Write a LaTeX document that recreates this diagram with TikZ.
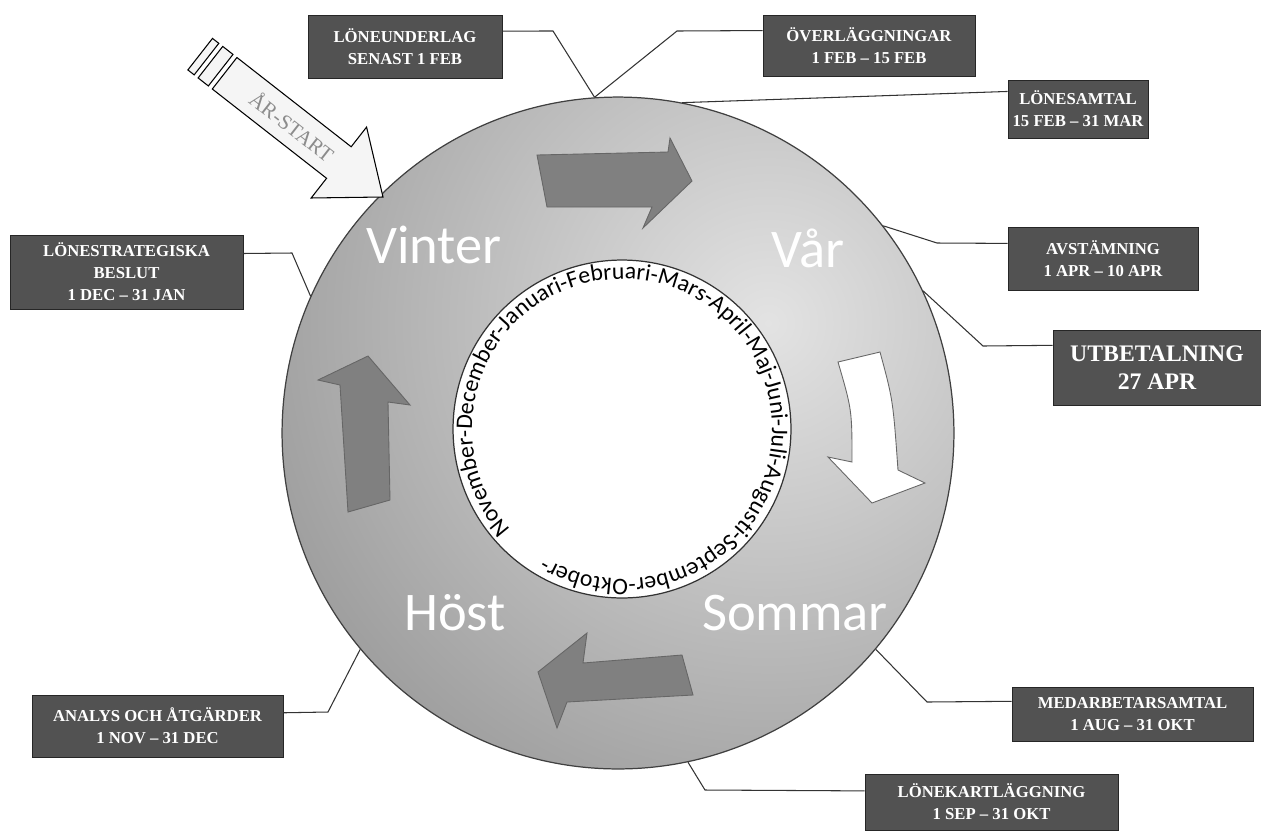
\documentclass[tikz,border=0pt]{standalone}
\usepackage{fontspec}
\setmainfont{Liberation Serif}
\newfontfamily\ringfont{Carlito}
\usetikzlibrary{calc,decorations.text}

\tikzset{
  lbl/.style={draw=black!85, fill=black!68, text=white, align=center, inner sep=0pt,
    line width=0.5pt, font=\bfseries\fontsize{9.5}{12.5}\selectfont},
  lead/.style={draw=black!80, line width=0.6pt},
  season/.style={text=white, anchor=base, font=\ringfont\fontsize{31}{31}\selectfont},
  ringarrow/.style={draw=black!60, fill=black!50, line width=0.5pt},
  startarrow/.style={draw=black, fill=gray!8, line width=0.6pt},
}

\begin{document}
\begin{tikzpicture}[x=0.02cm, y=-0.02cm]
  \useasboundingbox (0,0) rectangle (1261,833);

  % ring and inner disc
  \node[circle, draw=black!75, line width=0.7pt, minimum size=13.44cm, inner sep=0pt,
    path picture={\shade[inner color=gray!22, outer color=gray!78]
      ([xshift=3cm,yshift=2.2cm]path picture bounding box.center) circle (11cm);}]
    (ring) at (618,433) {};
  \node[circle, draw=black!80, fill=white, line width=0.7pt, minimum size=6.76cm,
    inner sep=0pt] (disc) at (622,429) {};

  % months along the disc
  \path[decorate, decoration={text along path, text align=left,
      text={|\ringfont\fontsize{13.5}{13.5}\selectfont|November-December-Januari-Februari-Mars-April-Maj-Juni-Juli-Augusti-September-Oktober-}}]
    (622,429) ++(138:150) arc[start angle=138, end angle=497, radius=150];

  % seasons
  \node[season] (vinter) at (434,263) {Vinter};
  \node[season] (var) at (808,267) {Vår};
  \node[season] (host) at (455,630) {Höst};
  \node[season] (sommar) at (795,630) {Sommar};

  % arrows in the ring
  \draw[ringarrow] (537,155) -- (668,152) -- (670,138) -- (692,181) -- (643,228)
    -- (652,207) -- (547,207) -- cycle;
  \draw[ringarrow, fill=white] (838,362) -- (880,352) .. controls (893,400) .. (898,470)
    -- (925,483) -- (872,503) -- (828,457) -- (852,462) .. controls (852,410) .. cycle;
  \draw[ringarrow] (538,672) -- (587,633) -- (583,663) -- (682,655) -- (693,695)
    -- (567,702) -- (557,728) -- cycle;
  \draw[ringarrow] (348,512) -- (340,385) -- (318,380) -- (368,356) -- (410,405)
    -- (388,402) -- (390,500) -- cycle;

  % year start arrow
  \begin{scope}[shift={(383,197)}, rotate=-38]
    \draw[startarrow] (0,0) -- (-56,-45) -- (-56,-20) -- (-201,-20) -- (-201,20)
      -- (-56,20) -- (-56,45) -- cycle;
    \draw[startarrow] (-206,-20) rectangle (-219,20);
    \draw[startarrow] (-224,-20) rectangle (-232,20);
    \node[transform shape, text=black!45, font=\fontsize{12}{12}\selectfont] (arstart) at (-115,0) {ÅR-START};
  \end{scope}

  % labels
  \node[lbl, minimum width=3.88cm, minimum height=1.26cm] (underlag) at (405,46.5) {LÖNEUNDERLAG\\SENAST 1 FEB};
  \node[lbl, minimum width=4.24cm, minimum height=1.22cm] (overlagg) at (869,45.5) {ÖVERLÄGGNINGAR\\1 FEB – 15 FEB};
  \node[lbl, minimum width=2.8cm, minimum height=1.16cm] (samtal) at (1078,109) {LÖNESAMTAL\\15 FEB – 31 MAR};
  \node[lbl, minimum width=4.66cm, minimum height=1.48cm] (strategi) at (126.5,272) {LÖNESTRATEGISKA\\BESLUT\\1 DEC – 31 JAN};
  \node[lbl, minimum width=3.8cm, minimum height=1.26cm] (avstamning) at (1103,258.5) {AVSTÄMNING\\1 APR – 10 APR};
  \node[lbl, minimum width=4.16cm, minimum height=1.5cm, font=\bfseries\fontsize{13.5}{15.7}\selectfont] (utbetalning) at (1157,367.5) {UTBETALNING\\27 APR};
  \node[lbl, minimum width=5.02cm, minimum height=1.24cm] (analys) at (157.5,726) {ANALYS OCH ÅTGÄRDER\\1 NOV – 31 DEC};
  \node[lbl, minimum width=4.82cm, minimum height=1.08cm] (medarb) at (1132.5,714) {MEDARBETARSAMTAL\\1 AUG – 31 OKT};
  \node[lbl, minimum width=5.06cm, minimum height=1.12cm] (kartlagg) at (991.5,802) {LÖNEKARTLÄGGNING\\1 SEP – 31 OKT};

  % leader lines
  \draw[lead] (underlag.9) -- (553,31) -- (ring.94);
  \draw[lead] (overlagg.172) -- (677,31) -- (ring.94);
  \draw[lead] (samtal.166) -- (ring.79);
  \draw[lead] (strategi.9) -- (292,253) -- (ring.156);
  \draw[lead] (avstamning.171) -- (937,243) -- (ring.38);
  \draw[lead] (utbetalning.168) -- (983,346) -- (ring.25);
  \draw[lead] (analys.6) -- (328,712) -- (ring.220);
  \draw[lead] (medarb.174) -- (927,702) -- (ring.-40);
  \draw[lead] (kartlagg.175) -- (705,790) -- (ring.-78);
\end{tikzpicture}
\end{document}
